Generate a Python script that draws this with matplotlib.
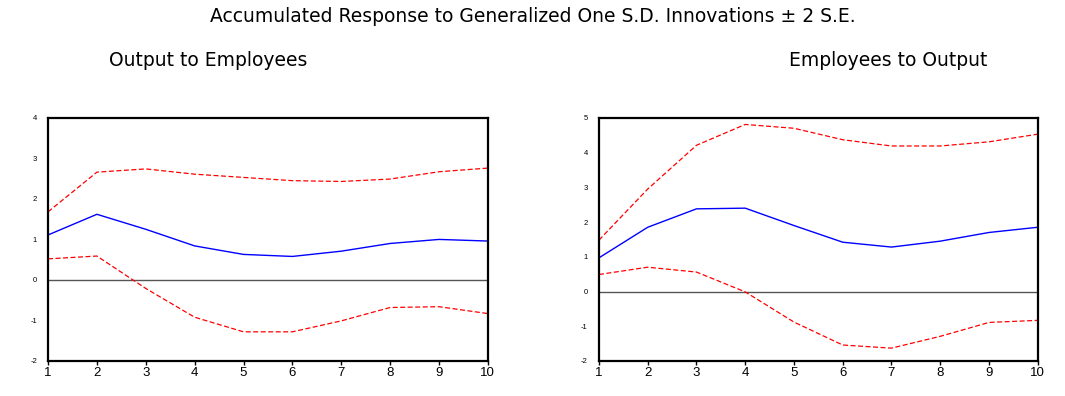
import matplotlib
matplotlib.use('Agg')
import matplotlib.pyplot as plt
import numpy as np

plt.rcParams['font.family'] = ['Liberation Sans', 'DejaVu Sans']
plt.rcParams['axes.unicode_minus'] = False

periods = np.arange(1, 11)

# Output to Employees
oe_resp = [1.11, 1.62, 1.25, 0.84, 0.63, 0.58, 0.71, 0.90, 1.00, 0.96]
oe_upper = [1.68, 2.66, 2.74, 2.61, 2.53, 2.45, 2.43, 2.49, 2.67, 2.76]
oe_lower = [0.52, 0.59, -0.21, -0.92, -1.28, -1.28, -1.01, -0.68, -0.66, -0.83]

# Employees to Output
eo_resp = [0.97, 1.85, 2.38, 2.40, 1.90, 1.42, 1.28, 1.45, 1.70, 1.85]
eo_upper = [1.48, 2.95, 4.21, 4.81, 4.70, 4.37, 4.19, 4.19, 4.31, 4.53]
eo_lower = [0.49, 0.70, 0.56, -0.01, -0.88, -1.54, -1.63, -1.29, -0.89, -0.83]

title_font = ['DejaVu Sans']

fig = plt.figure(figsize=(10.65, 3.96), dpi=100)
fig.text(0.5, 1 - 17 / 396, 'Accumulated Response to Generalized One S.D. Innovations \u00b1 2 S.E.',
         ha='center', va='center', fontsize=13.5, family=title_font)

panels = [
    ([0.0451, 0.0884, 0.413, 0.614], 'Output to Employees', 208, oe_resp, oe_upper, oe_lower, (-2, 4)),
    ([0.5624, 0.0884, 0.412, 0.614], 'Employees to Output', 888, eo_resp, eo_upper, eo_lower, (-2, 5)),
]

for rect, name, cx, resp, up, lo, ylim in panels:
    ax = fig.add_axes(rect)
    ax.axhline(0, color='#555555', lw=1.0)
    ax.plot(periods, up, color='red', lw=0.9, ls=(0, (4, 2)))
    ax.plot(periods, lo, color='red', lw=0.9, ls=(0, (4, 2)))
    ax.plot(periods, resp, color='blue', lw=1.0)
    ax.set_xlim(1, 10)
    ax.set_ylim(*ylim)
    ax.set_xticks(periods)
    ax.set_yticks(range(ylim[0], ylim[1] + 1))
    ax.tick_params(axis='x', labelsize=9.5, length=3, width=1, pad=1)
    ax.tick_params(axis='y', labelsize=5.5, length=0, pad=8)
    for sp in ax.spines.values():
        sp.set_linewidth(1.6)
    fig.text(cx / 1065, 1 - 60 / 396, name, ha='center', va='center',
             fontsize=13.5, family=title_font)

fig.savefig('out.png', dpi=100)
